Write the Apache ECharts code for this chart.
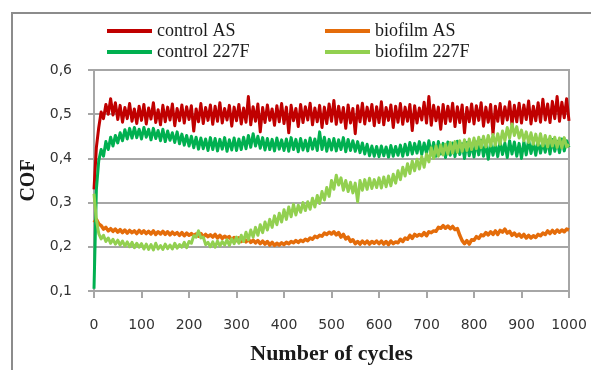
<!DOCTYPE html>
<html>
<head>
<meta charset="utf-8">
<script src="https://cdn.jsdelivr.net/npm/echarts@6/dist/echarts.min.js"></script>
<style>
html,body{margin:0;padding:0;background:#fff;}
#chart{width:591px;height:370px;}
</style>
</head>
<body>
<div id="chart"></div>
<script>
// Sampling step along the x axis (cycles between successive readings)
const STEP = 5;

const seriesNames = ['control AS', 'biofilm AS', 'control 227F', 'biofilm 227F'];

const yTicks = [0.1, 0.2, 0.3, 0.4, 0.5, 0.6];
const xTicks = [0, 100, 200, 300, 400, 500, 600, 700, 800, 900, 1000];

const controlAS = [
0.330,0.425,0.470,0.505,0.490,0.522,0.500,0.535,0.498,0.526,
0.488,0.520,0.482,0.515,0.490,0.524,0.484,0.512,0.479,0.518,
0.486,0.522,0.478,0.514,0.489,0.526,0.481,0.510,0.476,0.520,
0.483,0.516,0.487,0.523,0.474,0.513,0.485,0.521,0.480,0.517,
0.488,0.519,0.462,0.512,0.483,0.524,0.479,0.515,0.486,0.521,
0.477,0.518,0.484,0.526,0.480,0.513,0.487,0.520,0.473,0.516,
0.485,0.522,0.478,0.514,0.482,0.540,0.476,0.517,0.484,0.523,
0.460,0.515,0.481,0.521,0.486,0.512,0.475,0.519,0.483,0.524,
0.479,0.516,0.458,0.520,0.485,0.513,0.472,0.522,0.481,0.517,
0.487,0.525,0.476,0.514,0.483,0.520,0.470,0.516,0.479,0.523,
0.484,0.531,0.477,0.518,0.482,0.515,0.468,0.521,0.480,0.513,
0.456,0.519,0.483,0.525,0.478,0.516,0.485,0.522,0.474,0.517,
0.481,0.528,0.476,0.515,0.486,0.521,0.470,0.518,0.482,0.524,
0.477,0.516,0.484,0.522,0.463,0.519,0.480,0.514,0.487,0.527,
0.480,0.540,0.475,0.520,0.485,0.516,0.466,0.522,0.479,0.518,
0.484,0.525,0.472,0.517,0.481,0.521,0.458,0.515,0.483,0.523,
0.478,0.519,0.486,0.526,0.473,0.516,0.482,0.522,0.455,0.518,
0.484,0.524,0.479,0.517,0.487,0.528,0.476,0.520,0.483,0.525,
0.480,0.521,0.488,0.530,0.478,0.518,0.485,0.526,0.482,0.534,
0.487,0.523,0.481,0.529,0.490,0.540,0.484,0.527,0.492,0.535,
0.485];

const biofilmAS = [
0.255,0.262,0.252,0.248,0.240,0.244,0.236,0.241,0.235,0.240,
0.233,0.239,0.232,0.238,0.231,0.237,0.232,0.236,0.230,0.237,
0.231,0.236,0.230,0.235,0.229,0.236,0.228,0.234,0.229,0.235,
0.228,0.234,0.227,0.233,0.228,0.232,0.226,0.232,0.225,0.231,
0.226,0.230,0.225,0.229,0.224,0.230,0.222,0.228,0.223,0.227,
0.222,0.228,0.220,0.226,0.219,0.224,0.220,0.223,0.215,0.221,
0.214,0.220,0.212,0.218,0.211,0.217,0.210,0.215,0.209,0.214,
0.207,0.213,0.206,0.212,0.204,0.210,0.203,0.208,0.204,0.209,
0.205,0.210,0.207,0.212,0.209,0.214,0.210,0.215,0.212,0.217,
0.214,0.220,0.217,0.224,0.221,0.226,0.224,0.231,0.228,0.233,
0.229,0.234,0.227,0.232,0.222,0.228,0.218,0.222,0.212,0.216,
0.207,0.212,0.206,0.213,0.207,0.213,0.206,0.212,0.208,0.213,
0.207,0.213,0.206,0.212,0.205,0.213,0.207,0.211,0.209,0.217,
0.212,0.220,0.217,0.226,0.219,0.228,0.224,0.228,0.225,0.232,
0.225,0.234,0.232,0.236,0.235,0.244,0.242,0.248,0.242,0.247,
0.241,0.246,0.239,0.241,0.226,0.214,0.207,0.214,0.206,0.216,
0.215,0.223,0.219,0.227,0.225,0.232,0.227,0.234,0.228,0.236,
0.228,0.237,0.233,0.240,0.231,0.235,0.226,0.231,0.224,0.229,
0.222,0.228,0.220,0.226,0.220,0.225,0.221,0.228,0.225,0.231,
0.228,0.236,0.230,0.237,0.231,0.238,0.233,0.238,0.234,0.240,
0.238];

const control227F = [
0.105,0.330,0.395,0.420,0.405,0.438,0.420,0.448,0.428,0.452,
0.435,0.458,0.440,0.465,0.444,0.468,0.446,0.470,0.447,0.466,
0.444,0.470,0.448,0.466,0.442,0.468,0.445,0.463,0.440,0.466,
0.438,0.462,0.441,0.458,0.436,0.460,0.433,0.455,0.430,0.452,
0.428,0.450,0.424,0.448,0.421,0.446,0.422,0.444,0.418,0.447,
0.420,0.445,0.417,0.443,0.421,0.447,0.416,0.442,0.419,0.446,
0.418,0.444,0.420,0.448,0.422,0.452,0.425,0.456,0.428,0.450,
0.423,0.447,0.419,0.445,0.420,0.443,0.417,0.446,0.421,0.442,
0.418,0.444,0.416,0.447,0.420,0.443,0.415,0.445,0.419,0.441,
0.417,0.446,0.421,0.444,0.418,0.460,0.420,0.448,0.416,0.443,
0.419,0.445,0.417,0.442,0.420,0.447,0.415,0.443,0.418,0.440,
0.416,0.438,0.413,0.435,0.410,0.432,0.406,0.428,0.405,0.427,
0.404,0.428,0.406,0.426,0.403,0.429,0.405,0.427,0.407,0.430,
0.405,0.432,0.408,0.436,0.410,0.434,0.412,0.438,0.409,0.435,
0.411,0.440,0.408,0.436,0.405,0.438,0.410,0.434,0.402,0.437,
0.407,0.435,0.404,0.439,0.409,0.433,0.400,0.436,0.406,0.432,
0.403,0.437,0.408,0.441,0.405,0.434,0.398,0.436,0.407,0.433,
0.404,0.438,0.409,0.435,0.402,0.440,0.410,0.437,0.405,0.434,
0.400,0.438,0.408,0.442,0.411,0.436,0.407,0.440,0.412,0.437,
0.414,0.441,0.410,0.443,0.416,0.439,0.413,0.444,0.417,0.440,
0.425];

const biofilm227F = [
0.320,0.262,0.230,0.218,0.226,0.212,0.220,0.208,0.217,0.206,
0.215,0.204,0.213,0.202,0.211,0.200,0.210,0.198,0.208,0.199,
0.207,0.195,0.206,0.194,0.205,0.193,0.208,0.195,0.203,0.194,
0.206,0.196,0.204,0.195,0.208,0.197,0.205,0.199,0.210,0.198,
0.212,0.208,0.225,0.222,0.236,0.220,0.222,0.205,0.210,0.200,
0.211,0.199,0.213,0.202,0.212,0.204,0.216,0.203,0.218,0.207,
0.222,0.208,0.226,0.212,0.233,0.216,0.238,0.222,0.244,0.226,
0.250,0.232,0.256,0.238,0.262,0.244,0.270,0.250,0.276,0.256,
0.284,0.262,0.290,0.268,0.296,0.272,0.294,0.278,0.300,0.282,
0.302,0.285,0.310,0.290,0.316,0.298,0.325,0.306,0.334,0.314,
0.350,0.330,0.362,0.340,0.356,0.328,0.350,0.325,0.346,0.322,
0.344,0.302,0.350,0.328,0.352,0.330,0.355,0.332,0.352,0.334,
0.356,0.333,0.358,0.336,0.360,0.338,0.364,0.344,0.372,0.352,
0.380,0.360,0.388,0.366,0.394,0.372,0.398,0.376,0.404,0.380,
0.410,0.392,0.424,0.400,0.428,0.405,0.430,0.408,0.432,0.410,
0.436,0.412,0.438,0.414,0.440,0.416,0.442,0.418,0.444,0.420,
0.446,0.422,0.448,0.424,0.450,0.426,0.452,0.428,0.454,0.430,
0.456,0.432,0.462,0.440,0.470,0.446,0.478,0.452,0.472,0.446,
0.464,0.440,0.460,0.436,0.458,0.432,0.455,0.430,0.456,0.428,
0.452,0.426,0.450,0.428,0.448,0.425,0.446,0.424,0.447,0.426,
0.432];

const colors = ['#C00000', '#E46C0A', '#00B050', '#92D050'];
const widths = [3, 3.5, 3, 3];
const allValues = [controlAS, biofilmAS, control227F, biofilm227F];

function pairs(vals) {
  return vals.map((v, i) => [i * STEP, v]);
}

const chart = echarts.init(document.getElementById('chart'), null, {renderer: 'canvas'});

const legendPos = [
  {left: 107, top: 22},
  {left: 325, top: 22},
  {left: 107, top: 43},
  {left: 325, top: 43}
];

const option = {
  backgroundColor: '#ffffff',
  animation: false,
  graphic: [{
    type: 'rect',
    shape: {x: 12, y: 13, width: 700, height: 500},
    style: {fill: 'none', stroke: '#8c8c8c', lineWidth: 2},
    silent: true
  }],
  legend: seriesNames.map((n, i) => ({
    data: [n],
    left: legendPos[i].left,
    top: legendPos[i].top,
    icon: 'rect',
    itemWidth: 45,
    itemHeight: 4,
    itemGap: 0,
    padding: 0,
    selectedMode: false,
    textStyle: {fontFamily: 'Liberation Serif', fontSize: 18, color: '#1a1a1a', padding: [0, 0, 0, 0]}
  })),
  grid: {
    left: 94, right: 22, top: 70, bottom: 79,
    show: true, borderColor: '#a6a6a6', borderWidth: 2, backgroundColor: 'transparent'
  },
  xAxis: {
    type: 'value', min: 0, max: 1000, interval: 100,
    name: 'Number of cycles', nameLocation: 'middle', nameGap: 52,
    nameTextStyle: {fontFamily: 'Liberation Serif', fontWeight: 'bold', fontSize: 22, color: '#1a1a1a'},
    axisLine: {show: true, lineStyle: {color: '#a6a6a6', width: 2}},
    axisTick: {show: true, inside: false, length: 7, lineStyle: {color: '#a6a6a6', width: 2}},
    axisLabel: {margin: 27, fontFamily: 'DejaVu Sans', fontSize: 14, color: '#333',
      formatter: v => xTicks.includes(v) ? String(v) : ''},
    splitLine: {show: false}
  },
  yAxis: {
    type: 'value', min: 0.1, max: 0.6, interval: 0.1,
    name: 'COF', nameLocation: 'middle', nameGap: 50, nameRotate: 90,
    nameTextStyle: {fontFamily: 'Liberation Serif', fontWeight: 'bold', fontSize: 20, color: '#1a1a1a'},
    axisLine: {show: true, lineStyle: {color: '#a6a6a6', width: 2}},
    axisTick: {show: true, inside: false, length: 6, lineStyle: {color: '#a6a6a6', width: 2}},
    axisLabel: {margin: 22, fontFamily: 'DejaVu Sans', fontSize: 14, color: '#333',
      formatter: v => {
        const t = yTicks.find(k => Math.abs(k - v) < 1e-6);
        return t === undefined ? '' : t.toFixed(1).replace('.', ',');
      }},
    splitLine: {show: true, lineStyle: {color: '#a6a6a6', width: 2}}
  },
  series: seriesNames.map((n, i) => ({
    name: n,
    type: 'line',
    data: pairs(allValues[i]),
    showSymbol: false,
    symbol: 'none',
    smooth: false,
    lineStyle: {color: colors[i], width: widths[i], join: 'round'},
    itemStyle: {color: colors[i]},
    z: 2 + i
  }))
};

chart.setOption(option);
</script>
</body>
</html>
